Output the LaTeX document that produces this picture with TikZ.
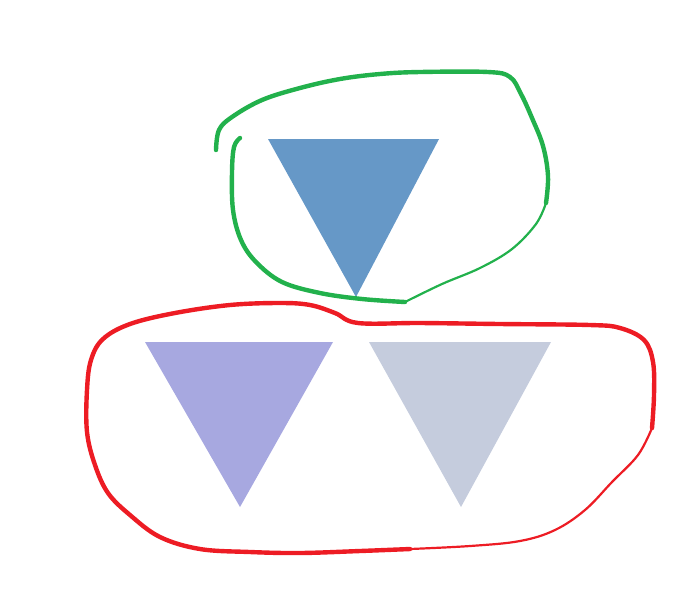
\documentclass[tikz,border=0pt]{standalone}
\usepackage{tikz}

\definecolor{topblue}{HTML}{6698C7}
\definecolor{leftlilac}{HTML}{A7A8E0}
\definecolor{rightgrey}{HTML}{C5CCDD}
\definecolor{penGreen}{HTML}{22B14C}
\definecolor{penRed}{HTML}{ED1C24}

\begin{document}
\begin{tikzpicture}
[x=0.5pt,y=-0.5pt,%
  wedge/.style={draw=none},%
  penline/.style={line width=2.2pt,line cap=round,line join=round},%
  penthin/.style={line width=1.1pt,line cap=round,line join=round}]
\useasboundingbox (0,0) rectangle (700,601);
% triangles
\fill[wedge,topblue] (268,139) -- (439,139) -- (356,297) -- cycle;
\fill[wedge,leftlilac] (145,342) -- (333,342) -- (240,507) -- cycle;
\fill[wedge,rightgrey] (369,342) -- (551,342) -- (461,507) -- cycle;
% green loop round the top one
\draw[penline,penGreen] plot[smooth,tension=0.6] coordinates {
  (216,150) (219,130) (232,117) (262,100) (300,88) (340,79) (380,74)
  (420,72) (488,72) (510,77) (521,94) (532,118) (543,146) (548,176)
  (546,203)};
\draw[penthin,penGreen] plot[smooth,tension=0.6] coordinates {
  (546,203) (536,224) (512,249) (480,268) (442,284) (405,302)};
\draw[penline,penGreen] plot[smooth,tension=0.6] coordinates {
  (405,302) (362,299) (320,293) (282,282) (256,262) (241,240)
  (233,210) (232,172) (234,147) (240,138)};
% red loop round the bottom two
\draw[penline,penRed] plot[smooth,tension=0.6] coordinates {
  (652,428) (654,395) (653,362) (644,340) (620,328) (590,325)
  (500,324) (420,323) (358,323) (335,313) (310,305) (280,303)
  (230,305) (175,313) (130,324) (103,339) (91,360) (87,390)
  (87,432) (95,465) (108,493) (130,515) (160,537) (200,549)
  (250,552) (300,553) (360,551) (410,549)};
\draw[penthin,penRed] plot[smooth,tension=0.6] coordinates {
  (410,549) (470,546) (520,541) (555,530) (585,510) (612,482)
  (638,455) (652,428)};
\end{tikzpicture}
\end{document}
